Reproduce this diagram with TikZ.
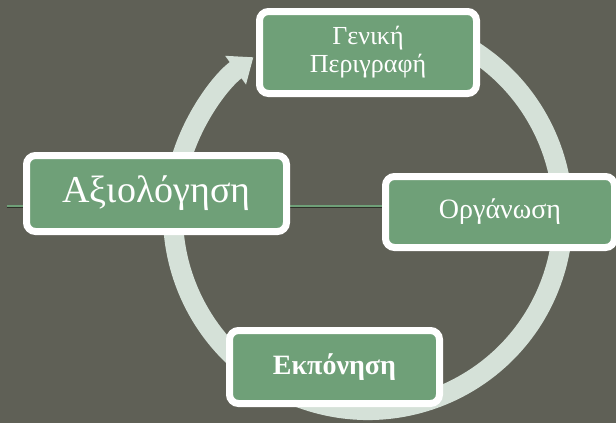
\documentclass[tikz,border=0pt]{standalone}
\usepackage{fontspec}
\setmainfont{Liberation Serif}
\usetikzlibrary{arrows.meta,shadows}
\definecolor{bgolive}{RGB}{95,96,86}
\definecolor{boxgreen}{RGB}{111,160,120}
\definecolor{ringpale}{RGB}{213,225,216}
\definecolor{railshade}{RGB}{45,48,40}
\pgfdeclarelayer{backdrop}
\pgfsetlayers{backdrop,main}

\tikzset{
  stagebox/.style={fill=boxgreen, draw=white, line width=7pt, rounded corners=9pt,
    text=white, align=center, inner sep=0pt,
    drop shadow={shadow xshift=1pt, shadow yshift=-2pt, opacity=0.25}},
}

\begin{document}
\begin{tikzpicture}[x=1pt, y=-1pt]
\useasboundingbox (0,0) rectangle (616,423);

% the four stages
\node[stagebox, minimum width=217pt, minimum height=82pt,
  font=\fontsize{26}{28}\selectfont] (genel) at (368,52.5) {Γενική\\Περιγραφή};
\node[stagebox, minimum width=229pt, minimum height=71pt,
  font=\fontsize{28}{30}\selectfont] (organ) at (500,212) {Οργάνωση};
\node[stagebox, minimum width=210pt, minimum height=73pt,
  font=\fontsize{28}{30}\selectfont\bfseries] (ekpon) at (334.5,367) {Εκπόνηση};
\node[stagebox, minimum width=260pt, minimum height=76pt,
  font=\fontsize{38}{40}\selectfont] (axiol) at (156.5,193.5) {Αξιολόγηση};

\begin{pgfonlayer}{backdrop}
\fill[bgolive] (0,0) rectangle (616,423);
% cycle ring
\coordinate (hub) at (368,215);
\draw[ringpale, line width=20pt, -{Triangle[length=22pt, width=34pt]}]
  (hub) ++(-70:195) arc[start angle=-70, end angle=234, radius=195];
% rail behind the left box
\coordinate (railstart) at (7,206);
\draw[railshade, line width=1.5pt] ([yshift=-1.5pt]railstart) -- ([yshift=-1.5pt]railstart -| organ.west);
\draw[boxgreen, line width=2pt] (railstart) -- (railstart -| organ.west);
\end{pgfonlayer}
\end{tikzpicture}
\end{document}
